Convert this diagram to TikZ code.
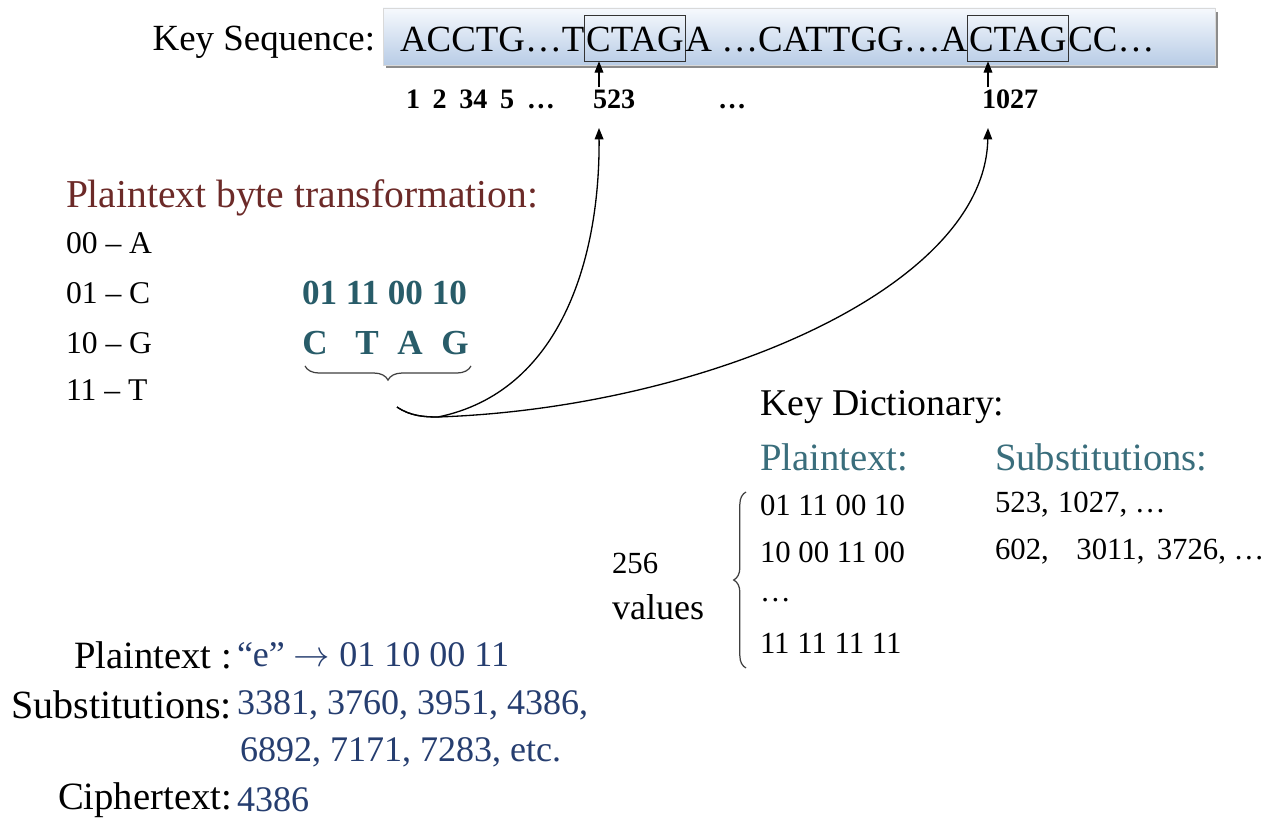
\documentclass[tikz,border=0pt]{standalone}
\usepackage{fontspec}
\setmainfont{Liberation Serif}
\usetikzlibrary{arrows.meta,decorations.pathreplacing,calc}
\definecolor{brn}{RGB}{108,42,40}
\definecolor{tealb}{RGB}{40,92,105}
\definecolor{teald}{RGB}{58,110,124}
\definecolor{navy}{RGB}{38,62,112}
\definecolor{boxtop}{RGB}{246,249,253}
\definecolor{boxbot}{RGB}{184,204,230}
\begin{document}
\begin{tikzpicture}[x=0.02cm,y=-0.02cm,
  every node/.style={inner sep=0pt, outer sep=0pt},
  seqtxt/.style={font=\fontsize{21}{24}\selectfont},
  ctagbox/.style={seqtxt, draw=black!80, line width=0.6pt, inner xsep=1pt, text height=21pt, text depth=5.3pt},
  numtxt/.style={font=\bfseries\fontsize{16}{18}\selectfont},
  conn/.style={line width=0.75pt, -{Triangle[length=6.5pt,width=5pt]}},
  head/.style={font=\fontsize{22.5}{25}\selectfont, text=brn},
  lst/.style={font=\fontsize{18}{20}\selectfont},
  bnum/.style={font=\bfseries\fontsize{20}{22}\selectfont, text=tealb},
  dict/.style={font=\fontsize{21.5}{24}\selectfont},
  dhead/.style={font=\fontsize{22}{24}\selectfont, text=teald},
  dnum/.style={font=\fontsize{17.5}{20}\selectfont},
  blab/.style={font=\fontsize{22}{24}\selectfont},
  bval/.style={font=\fontsize{20.5}{23}\selectfont, text=navy},
  brc/.style={decorate, line width=0.7pt, draw=black!75}
]
\useasboundingbox (0,0) rectangle (1276,827);
\fill[white] (0,0) rectangle (1276,827);

% key sequence box
\fill[black!45] (386,12) rectangle (1218,68);
\shade[top color=boxtop, bottom color=boxbot, draw=black!15] (383,8) rectangle (1215,65);
\node[seqtxt, anchor=base east] (ks) at (375,51) {Key Sequence:};
\node[seqtxt, anchor=base west] (s1) at (400,52) {ACCTG…T};
\node[ctagbox, anchor=base west] (c1) at (s1.base east) {CTAG};
\node[seqtxt, anchor=base west] (s2) at (c1.base east) {A …CATTGG…A};
\node[ctagbox, anchor=base west] (c2) at (s2.base east) {CTAG};
\node[seqtxt, anchor=base west] (s3) at (c2.base east) {CC…};

% position numbers
\node[numtxt, anchor=base west] (n1) at (406,109) {\spaceskip=.45em\relax 1 2 34 5 …};
\node[numtxt, anchor=base west] (n523) at (593,109) {523};
\node[numtxt, anchor=base west] (nd) at (718,109) {…};
\node[numtxt, anchor=base west] (n1027) at (982,109) {1027};

\coordinate (t1) at (599,128);
\coordinate (t2) at (988,128);
\draw[conn] ($(t1 |- n523.north)+(0,-3)$) -- (t1 |- c1.south);
\draw[conn] ($(t2 |- n1027.north)+(0,-3)$) -- (t2 |- c2.south);

% plaintext byte transformation
\node[head, anchor=west] (hd) at (66,198) {Plaintext byte transformation:};
\node[lst, anchor=west] (l1) at (66,243) {00 – A};
\node[lst, anchor=west] (l2) at (66,293) {01 – C};
\node[lst, anchor=west] (l3) at (66,343) {10 – G};
\node[lst, anchor=west] (l4) at (66,390) {11 – T};
\node[bnum, anchor=west] (bits) at (302,293) {01 11 00 10};
\node[bnum] (lc) at (315,343) {C};
\node[bnum] (lt) at (367,343) {T};
\node[bnum] (la) at (410,343) {A};
\node[bnum] (lg) at (455,343) {G};
\draw[brc, decoration={brace, mirror, amplitude=8pt}] (305,366) -- (471,366);

% connectors to key sequence
\coordinate (S) at (397,407);
\coordinate (J) at (438,417);
\draw[conn] (S) .. controls (410,416) and (424,417) .. (J) .. controls (560,392) and (600,260) .. (t1);
\draw[conn] (S) .. controls (410,416) and (424,417) .. (J) .. controls (700,408) and (985,290) .. (t2);

% key dictionary
\node[dict, anchor=west] (kd) at (760,407) {Key Dictionary:};
\node[dhead, anchor=west] (dp) at (760,457) {Plaintext:};
\node[dhead, anchor=west] (ds) at (995,457) {Substitutions:};
\node[dnum, anchor=west] (r1) at (760,505) {01 11 00 10};
\node[dnum, anchor=west] (v1) at (995,505) {523,\hspace{0.3em}1027, …};
\node[dnum, anchor=west] (r2) at (760,552) {10 00 11 00};
\node[dnum, anchor=west] (v2) at (995,552) {602,\hspace{0.9em}3011,\hspace{0.4em}3726, …};
\node[dnum, anchor=west] (r3) at (760,600) {…};
\node[dnum, anchor=west] (r4) at (760,643) {11 11 11 11};
\node[dnum, anchor=west] (n256) at (612,563) {256};
\node[dnum, font=\fontsize{20.5}{22}\selectfont, anchor=west] (nval) at (612,607) {values};
\draw[brc, decoration={brace, amplitude=7pt}] (746,668) -- (746,492);

% bottom example
\node[blab, anchor=east] (bp) at (232,655) {Plaintext :};
\node[bval, anchor=west] (bpv) at (237,655) {“e” $\rightarrow$ 01 10 00 11};
\node[blab, font=\fontsize{22.8}{24}\selectfont, anchor=east] (bs) at (232,705) {Substitutions:};
\node[bval, anchor=west] (bsv) at (237,705) {3381, 3760, 3951, 4386,};
\node[bval, anchor=west] (bsv2) at (240,752) {6892, 7171, 7283, etc.};
\node[blab, anchor=east] (bc) at (232,800) {Ciphertext:};
\node[bval, anchor=west] (bcv) at (237,800) {4386};
\end{tikzpicture}
\end{document}
